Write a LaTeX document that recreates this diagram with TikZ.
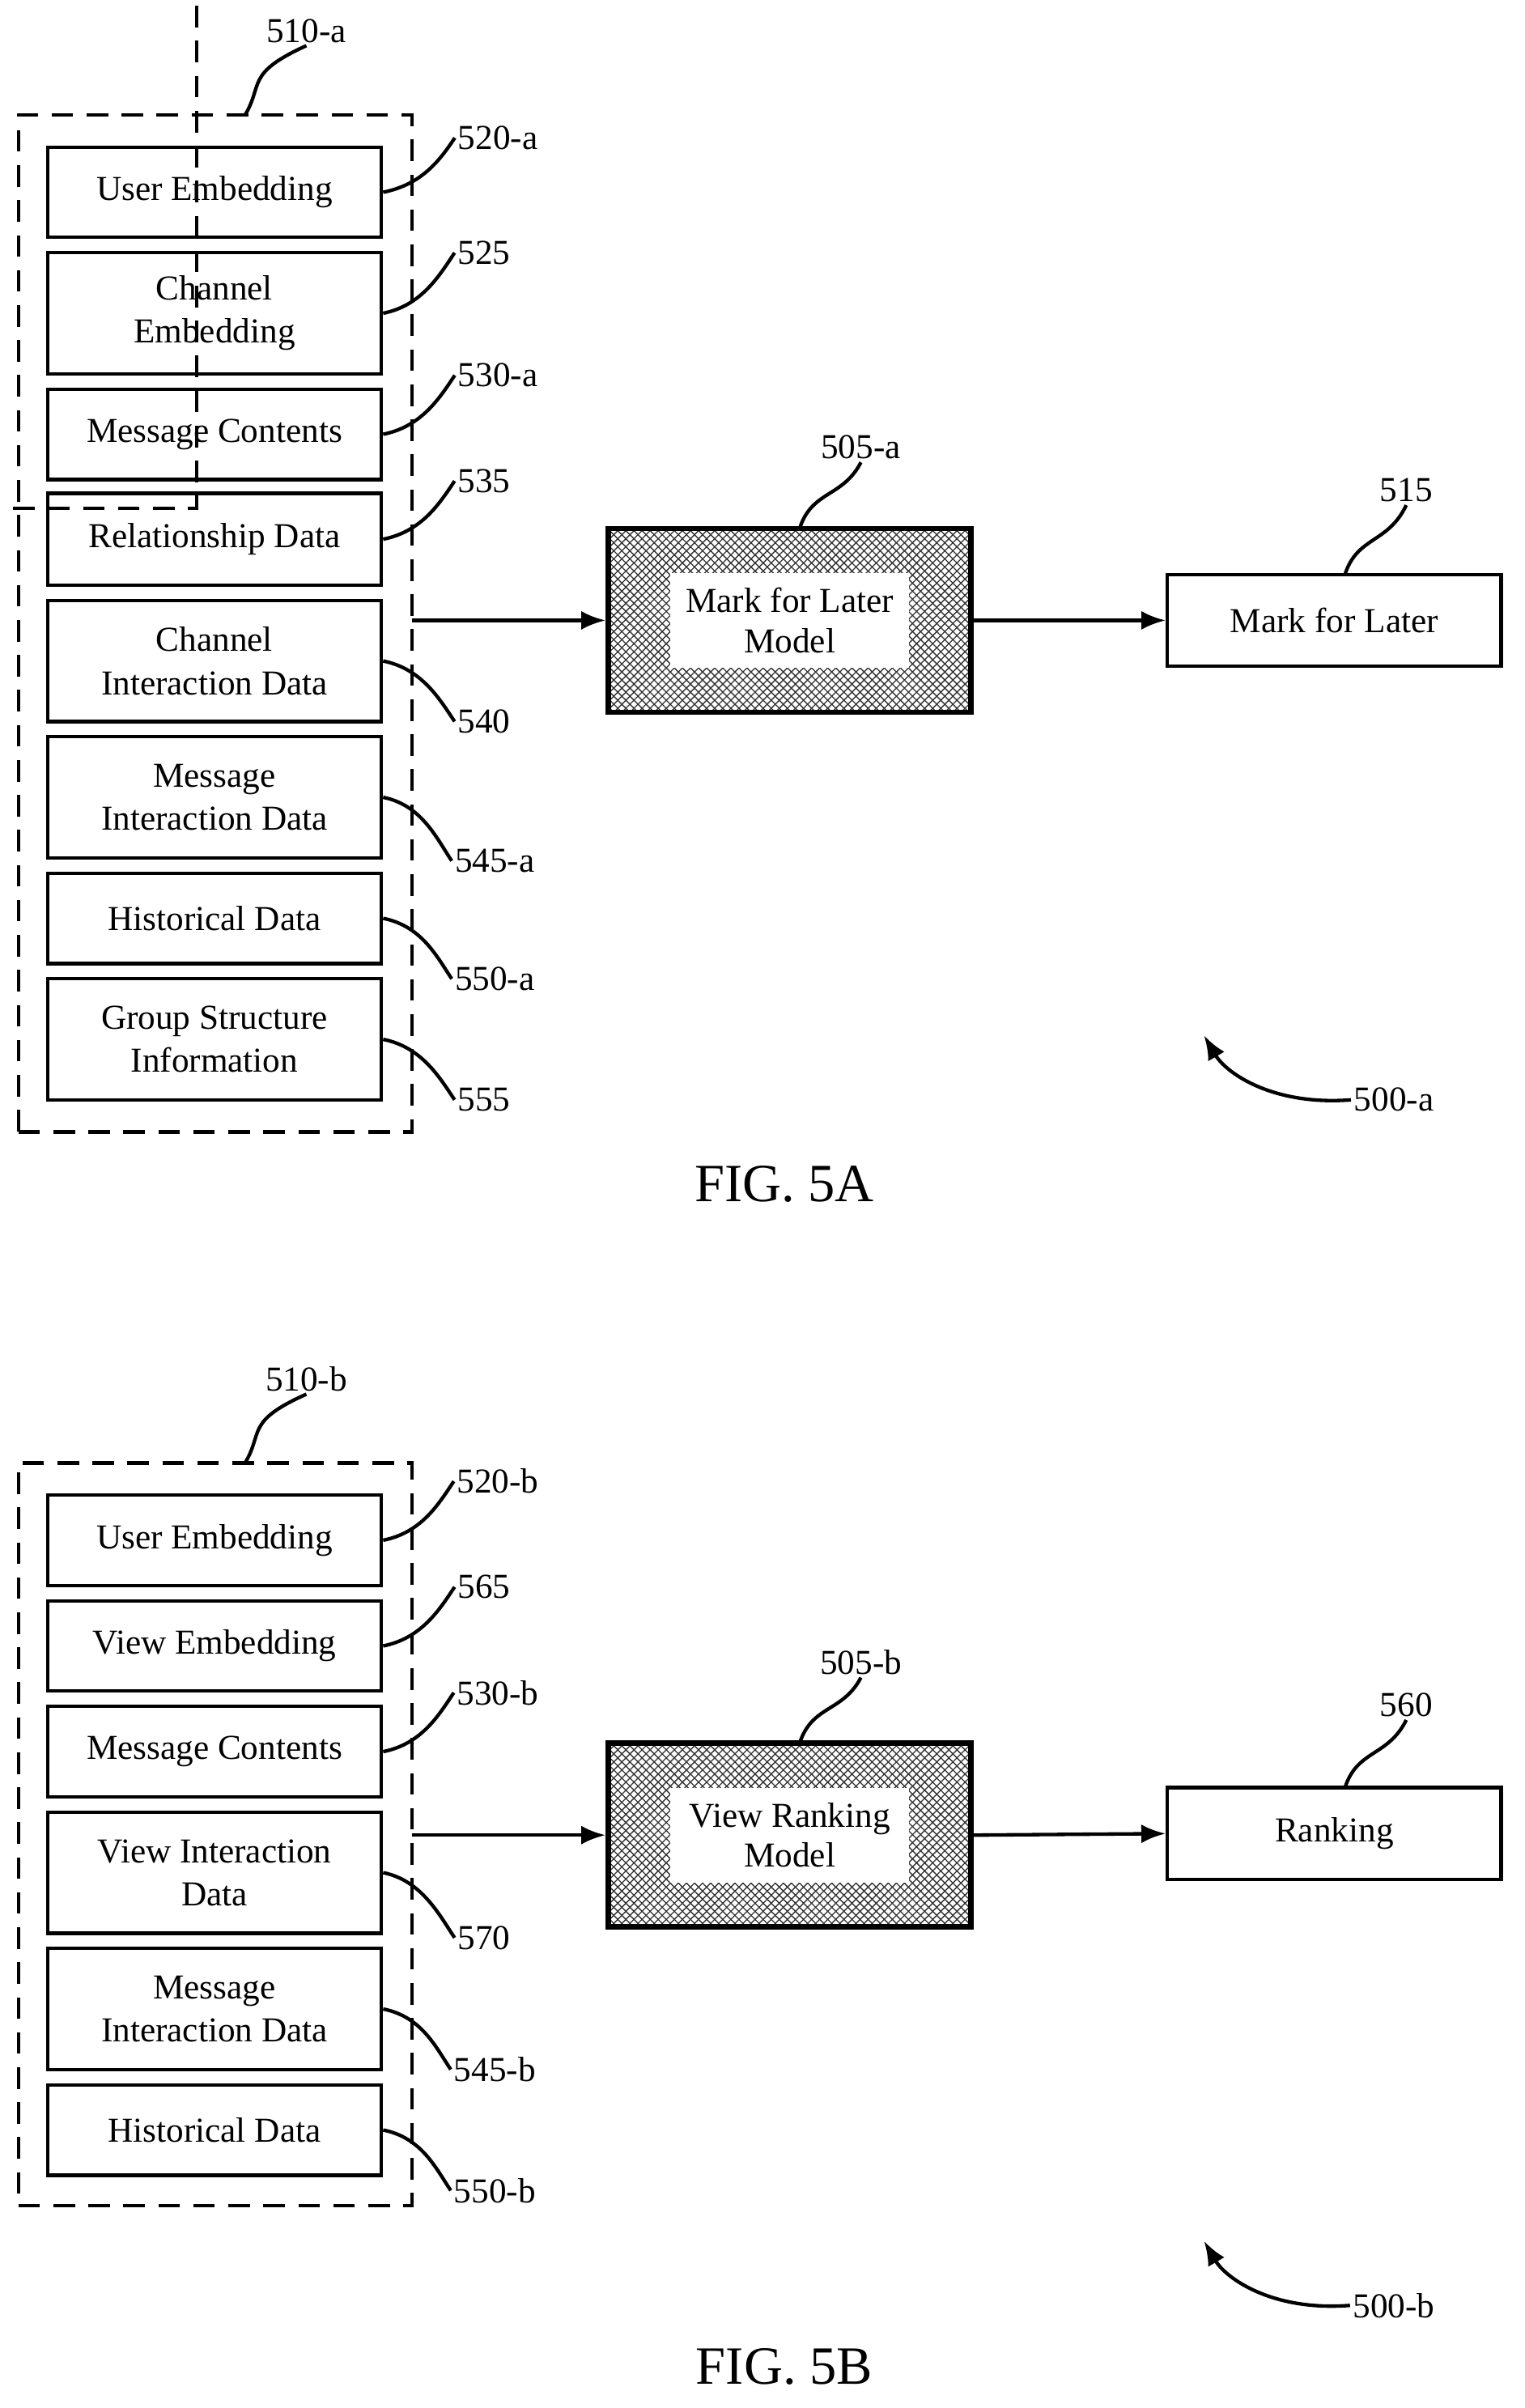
\documentclass[tikz,border=0pt]{standalone}
\usepackage{fontspec}
\setmainfont{Liberation Serif}
\usetikzlibrary{positioning,arrows.meta,patterns}
\tikzset{
	input/.style = {
		draw, line width=1.3pt, minimum width=4.36cm, inner sep=1pt, align=center,
		font=\fontsize{13}{16}\selectfont
	}
}
\tikzset{
	group/.style = {
		draw, dashed, line width=1.3pt, dash pattern=on 8pt off 5pt
	}
}
\tikzset{
	model/.style = {
		draw, line width=2pt, minimum width=4.74cm, minimum height=2.4cm,
		fill=gray!55, pattern=crosshatch, pattern color=black!80
	}
}
\tikzset{
	flow/.style = {
		line width=1.3pt, -{Latex[length=9pt,width=7pt]}
	}
}
\tikzset{
	leader/.style = {
		line width=1.3pt
	}
}
\tikzset{
	ref/.style = {
		font=\fontsize{13}{16}\selectfont, inner sep=1pt
	}
}
\begin{document}
\begin{tikzpicture}[x=0.02cm,y=-0.02cm]
	\useasboundingbox (0,0) rectangle (995,1572);
	% FIG. 5A
	\node[group, minimum width=5.14cm, minimum height=13.28cm](Group){} ;
	\path (Group) ++(0,0);
	\node[group, minimum width=5.14cm, minimum height=13.28cm] (InputsA) at (140.5,407){};
	\node[ref] (InputsAref) at (200,20){510-a};
	\draw[leader] (160,75) .. controls (172,55) and (160,48) .. (InputsAref.south);

	\node[input, minimum height=1.18cm] (UserA) at (140,125.5){User Embedding};
	\node[input, minimum height=1.58cm] (Channel) at (140,204.5){Channel\\Embedding};
	\node[input, minimum height=1.18cm] (ContentsA) at (140,283.5){Message Contents};
	\node[input, minimum height=1.2cm] (Relation) at (140,352){Relationship Data};
	\node[input, minimum height=1.58cm] (ChannelInter) at (140,431.5){Channel\\Interaction Data};
	\node[input, minimum height=1.58cm] (MessageInterA) at (140,520.5){Message\\Interaction Data};
	\node[input, minimum height=1.18cm] (HistoryA) at (140,599.5){Historical Data};
	\node[input, minimum height=1.58cm] (GroupInfo) at (140,678.5){Group Structure\\Information};

	\node[ref] (UserAref) at (325,90){520-a};
	\node[ref] (ChannelRef) at (316,165){525};
	\node[ref] (ContentsAref) at (325,245){530-a};
	\node[ref] (RelationRef) at (316,314){535};
	\node[ref] (ChannelInterRef) at (316,471){540};
	\node[ref] (MessageInterAref) at (323,562){545-a};
	\node[ref] (HistoryAref) at (323,639){550-a};
	\node[ref] (GroupInfoRef) at (316,718){555};

	\draw[leader] (UserA.east) .. controls +(25,-5) and +(-10,15) .. (UserAref.west);
	\draw[leader] (Channel.east) .. controls +(25,-5) and +(-10,15) .. (ChannelRef.west);
	\draw[leader] (ContentsA.east) .. controls +(25,-5) and +(-10,15) .. (ContentsAref.west);
	\draw[leader] (Relation.east) .. controls +(25,-5) and +(-10,15) .. (RelationRef.west);
	\draw[leader] (ChannelInter.east) .. controls +(25,5) and +(-10,-15) .. (ChannelInterRef.west);
	\draw[leader] (MessageInterA.east) .. controls +(25,5) and +(-10,-15) .. (MessageInterAref.west);
	\draw[leader] (HistoryA.east) .. controls +(25,5) and +(-10,-15) .. (HistoryAref.west);
	\draw[leader] (GroupInfo.east) .. controls +(25,5) and +(-10,-15) .. (GroupInfoRef.west);

	\node[model] (ModelA) at (515.5,405){};
	\node[fill=white, minimum width=3.12cm, minimum height=1.24cm, inner sep=0pt, align=center,
		font=\fontsize{13}{15}\selectfont] at (ModelA){Mark for Later\\Model};
	\node[ref] (ModelAref) at (562,292){505-a};
	\draw[leader] (522,345) .. controls (530,320) and (550,325) .. (ModelAref.south);

	\node[input, minimum height=1.2cm] (Later) at (871,405){Mark for Later};
	\node[ref] (LaterRef) at (918,320){515};
	\draw[leader] (878,375) .. controls (886,350) and (906,355) .. (LaterRef.south);

	\coordinate (OutA) at (269,405);
	\draw[flow] (OutA) -- (ModelA.west);
	\draw[flow] (ModelA.east) -- (Later.west);

	\node[ref] (FigA) at (910,718){500-a};
	\draw[flow] (FigA.west) .. controls (830,722) and (800,700) .. (786,676);
	\node[font=\fontsize{20}{24}\selectfont] (CaptionA) at (512,773){FIG. 5A};

	% FIG. 5B
	\node[group, minimum width=5.14cm, minimum height=9.7cm] (InputsB) at (140.5,1197.5){};
	\node[ref] (InputsBref) at (200,900){510-b};
	\draw[leader] (160,955) .. controls (172,935) and (160,928) .. (InputsBref.south);

	\node[input, minimum height=1.18cm] (UserB) at (140,1005.5){User Embedding};
	\node[input, minimum height=1.18cm] (View) at (140,1074.5){View Embedding};
	\node[input, minimum height=1.18cm] (ContentsB) at (140,1143.5){Message Contents};
	\node[input, minimum height=1.58cm] (ViewInter) at (140,1222.5){View Interaction\\Data};
	\node[input, minimum height=1.58cm] (MessageInterB) at (140,1311.5){Message\\Interaction Data};
	\node[input, minimum height=1.18cm] (HistoryB) at (140,1390.5){Historical Data};

	\node[ref] (UserBref) at (325,967){520-b};
	\node[ref] (ViewRef) at (316,1036){565};
	\node[ref] (ContentsBref) at (325,1105){530-b};
	\node[ref] (ViewInterRef) at (316,1265){570};
	\node[ref] (MessageInterBref) at (323,1351){545-b};
	\node[ref] (HistoryBref) at (323,1430){550-b};

	\draw[leader] (UserB.east) .. controls +(25,-5) and +(-10,15) .. (UserBref.west);
	\draw[leader] (View.east) .. controls +(25,-5) and +(-10,15) .. (ViewRef.west);
	\draw[leader] (ContentsB.east) .. controls +(25,-5) and +(-10,15) .. (ContentsBref.west);
	\draw[leader] (ViewInter.east) .. controls +(25,5) and +(-10,-15) .. (ViewInterRef.west);
	\draw[leader] (MessageInterB.east) .. controls +(25,5) and +(-10,-15) .. (MessageInterBref.west);
	\draw[leader] (HistoryB.east) .. controls +(25,5) and +(-10,-15) .. (HistoryBref.west);

	\node[model] (ModelB) at (515.5,1198){};
	\node[fill=white, minimum width=3.12cm, minimum height=1.24cm, inner sep=0pt, align=center,
		font=\fontsize{13}{15}\selectfont] at (ModelB){View Ranking\\Model};
	\node[ref] (ModelBref) at (562,1085){505-b};
	\draw[leader] (522,1138) .. controls (530,1113) and (550,1118) .. (ModelBref.south);

	\node[input, minimum height=1.2cm] (Ranking) at (871,1197){Ranking};
	\node[ref] (RankingRef) at (918,1113){560};
	\draw[leader] (878,1167) .. controls (886,1142) and (906,1147) .. (RankingRef.south);

	\coordinate (OutB) at (269,1198);
	\draw[flow] (OutB) -- (ModelB.west);
	\draw[flow] (ModelB.east) -- (Ranking.west);

	\node[ref] (FigB) at (910,1505){500-b};
	\draw[flow] (FigB.west) .. controls (830,1509) and (800,1487) .. (786,1463);
	\node[font=\fontsize{20}{24}\selectfont] (CaptionB) at (512,1545){FIG. 5B};
\end{tikzpicture}
\end{document}
